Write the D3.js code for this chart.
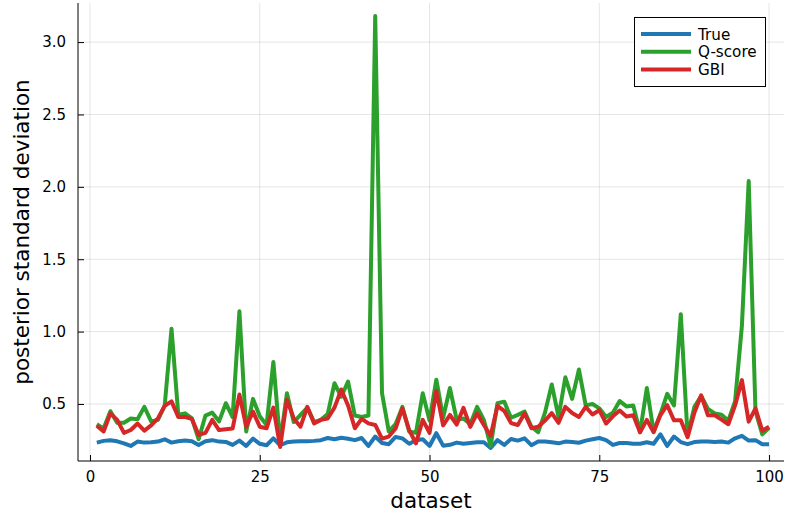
<!DOCTYPE html>
<html><head><meta charset="utf-8">
<script src="https://cdn.jsdelivr.net/npm/d3@7"></script>
<style>html,body{margin:0;padding:0;background:#fff;} svg{display:block;font-family:"DejaVu Sans",sans-serif;}</style>
</head><body>
<svg id="chart" width="785" height="514"></svg>
<script>
const seriesNames = ["True", "Q-score", "GBI"];
const seriesColors = ["#1f77b4", "#2ca02c", "#d62728"];
const xTicks = [0, 25, 50, 75, 100];
const yTicks = [0.5, 1.0, 1.5, 2.0, 2.5, 3.0];
const trueVals = [0.233,0.245,0.25,0.242,0.228,0.21,0.24,0.233,0.235,0.24,0.256,0.233,0.242,0.248,0.242,0.217,0.242,0.25,0.24,0.238,
0.217,0.247,0.21,0.26,0.225,0.215,0.262,0.215,0.235,0.24,0.242,0.242,0.245,0.25,0.265,0.256,0.267,0.26,0.25,0.265,
0.21,0.275,0.23,0.222,0.272,0.262,0.225,0.25,0.256,0.21,0.298,0.212,0.218,0.233,0.225,0.23,0.235,0.235,0.196,0.25,
0.217,0.258,0.247,0.263,0.215,0.24,0.24,0.235,0.228,0.24,0.238,0.232,0.247,0.256,0.265,0.25,0.217,0.23,0.23,0.225,
0.225,0.235,0.225,0.29,0.21,0.275,0.237,0.222,0.237,0.24,0.24,0.237,0.24,0.233,0.263,0.28,0.247,0.25,0.222,0.222];
const qscoreVals = [0.36,0.33,0.45,0.37,0.37,0.40,0.395,0.48,0.38,0.39,0.49,1.02,0.425,0.435,0.40,0.256,0.42,0.44,0.38,0.505,
0.41,1.14,0.31,0.535,0.415,0.355,0.79,0.235,0.574,0.375,0.425,0.475,0.375,0.39,0.43,0.643,0.55,0.655,0.42,0.41,
0.42,3.18,0.575,0.31,0.36,0.48,0.31,0.30,0.574,0.385,0.668,0.405,0.61,0.39,0.40,0.36,0.48,0.39,0.21,0.505,
0.516,0.405,0.425,0.447,0.343,0.305,0.44,0.635,0.41,0.684,0.535,0.738,0.49,0.50,0.47,0.41,0.44,0.52,0.483,0.49,
0.305,0.61,0.31,0.43,0.57,0.49,1.12,0.28,0.48,0.555,0.465,0.435,0.425,0.385,0.52,1.04,2.04,0.45,0.29,0.335];
const gbiVals = [0.35,0.31,0.435,0.39,0.30,0.32,0.365,0.316,0.352,0.40,0.487,0.518,0.41,0.41,0.397,0.286,0.30,0.39,0.32,0.325,
0.33,0.565,0.343,0.447,0.343,0.332,0.475,0.203,0.53,0.40,0.343,0.48,0.366,0.39,0.40,0.475,0.60,0.49,0.332,0.397,
0.366,0.355,0.26,0.275,0.33,0.47,0.32,0.228,0.39,0.30,0.59,0.352,0.424,0.358,0.473,0.342,0.435,0.355,0.28,0.486,
0.453,0.368,0.355,0.435,0.332,0.343,0.385,0.437,0.37,0.48,0.437,0.41,0.48,0.427,0.457,0.365,0.415,0.455,0.413,0.422,
0.305,0.39,0.305,0.423,0.492,0.387,0.388,0.27,0.44,0.56,0.422,0.422,0.392,0.36,0.49,0.665,0.378,0.47,0.315,0.342];
const allSeries = [trueVals, qscoreVals, gbiVals];

const svg = d3.select("#chart");
const pLeft = 78, pRight = 784, pTop = 3, pBottom = 461;
const x = d3.scaleLinear().domain([-1.77, 102.2]).range([pLeft, pRight]);
const y = d3.scaleLinear().domain([0.106, 3.27]).range([pBottom, pTop]);

// grid
const g = svg.append("g");
g.selectAll("line.gx").data(xTicks).enter().append("line")
  .attr("x1", d => x(d)).attr("x2", d => x(d)).attr("y1", pTop).attr("y2", pBottom)
  .attr("stroke", "#000").attr("stroke-opacity", 0.1).attr("stroke-width", 1);
g.selectAll("line.gy").data(yTicks).enter().append("line")
  .attr("x1", pLeft).attr("x2", pRight).attr("y1", d => y(d)).attr("y2", d => y(d))
  .attr("stroke", "#000").attr("stroke-opacity", 0.1).attr("stroke-width", 1);

// lines
const line = d3.line().x((d, i) => x(i + 1)).y(d => y(d));
allSeries.forEach((vals, k) => {
  svg.append("path").datum(vals).attr("d", line)
    .attr("fill", "none").attr("stroke", seriesColors[k]).attr("stroke-width", 4)
    .attr("stroke-linejoin", "round");
});

// axes
const xAxis = d3.axisBottom(x).tickValues(xTicks).tickFormat(d3.format("d")).tickSize(-6).tickPadding(10);
const yAxis = d3.axisLeft(y).tickValues(yTicks).tickFormat(d3.format(".1f")).tickSize(-6).tickPadding(12);
const gx = svg.append("g").attr("transform", `translate(0,${pBottom})`).call(xAxis);
const gy = svg.append("g").attr("transform", `translate(${pLeft},0)`).call(yAxis);
[gx, gy].forEach(a => {
  a.select(".domain").remove();
  a.selectAll("text").attr("font-size", 15).attr("font-family", "DejaVu Sans").attr("fill", "#000");
  a.selectAll("line").attr("stroke", "#000");
});
svg.append("line").attr("x1", pLeft).attr("x2", pRight).attr("y1", pBottom).attr("y2", pBottom).attr("stroke", "#000");
svg.append("line").attr("x1", pLeft).attr("x2", pLeft).attr("y1", pTop).attr("y2", pBottom).attr("stroke", "#000");

// axis labels
svg.append("text").attr("x", (pLeft + pRight) / 2).attr("y", 508).attr("text-anchor", "middle")
  .attr("font-size", 21.5).text("dataset");
svg.append("text").attr("transform", `translate(29,${(pTop + pBottom) / 2}) rotate(-90)`).attr("text-anchor", "middle")
  .attr("font-size", 21.5).text("posterior standard deviation");

// legend
const lg = svg.append("g");
lg.append("rect").attr("x", 634.5).attr("y", 17.5).attr("width", 131).attr("height", 69)
  .attr("fill", "#fff").attr("stroke", "#000").attr("stroke-width", 1);
seriesNames.forEach((n, k) => {
  const yy = 34 + k * 17.7;
  lg.append("line").attr("x1", 641).attr("x2", 691).attr("y1", yy).attr("y2", yy)
    .attr("stroke", seriesColors[k]).attr("stroke-width", 4);
  lg.append("text").attr("x", 698).attr("y", yy + 5.5).attr("font-size", 15.2).text(n);
});
</script>
</body></html>
